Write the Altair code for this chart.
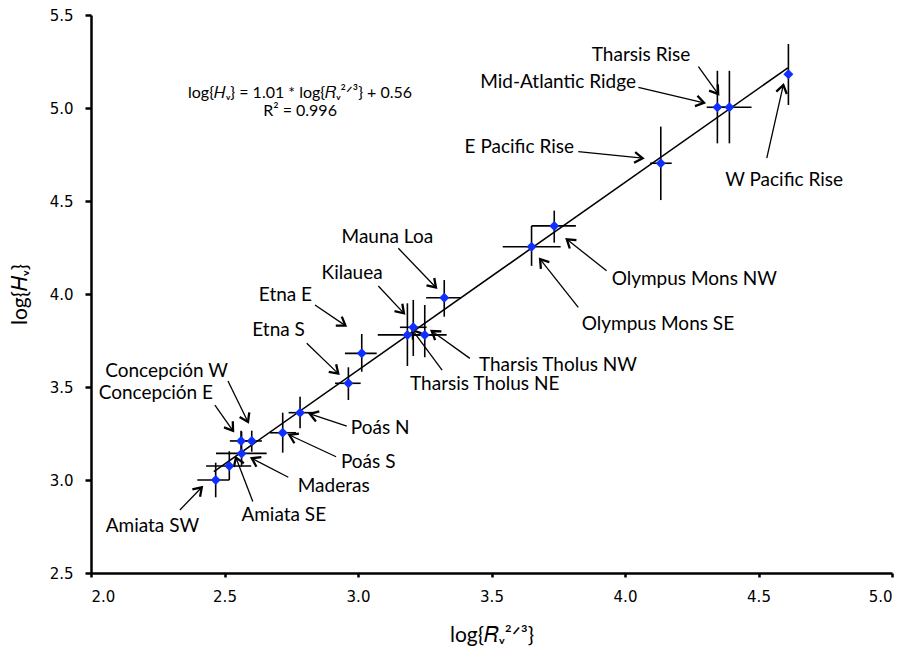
import math
import altair as alt
import pandas as pd

# ---------------- data ----------------
names = ["Amiata SW", "Amiata SE", "Maderas", "Concepción E", "Concepción W",
         "Poás S", "Poás N", "Etna S", "Etna E", "Kilauea",
         "Tharsis Tholus NE", "Tharsis Tholus NW", "Mauna Loa",
         "Olympus Mons SE", "Olympus Mons NW", "E Pacific Rise",
         "Mid-Atlantic Ridge", "Tharsis Rise", "W Pacific Rise"]
log_r = [2.467, 2.518, 2.564, 2.562, 2.602, 2.718, 2.783, 2.964, 3.014, 3.185,
         3.207, 3.250, 3.323, 3.650, 3.735, 4.134, 4.346, 4.391, 4.612]
log_h = [3.000, 3.075, 3.143, 3.210, 3.210, 3.254, 3.362, 3.520, 3.681, 3.780,
         3.821, 3.780, 3.980, 4.254, 4.366, 4.703, 5.004, 5.004, 5.181]
r_lo = [2.398, 2.431, 2.468, 2.520, 2.560, 2.670, 2.740, 2.914, 2.951, 3.074,
        3.157, 3.200, 3.255, 3.542, 3.650, 4.094, 4.306, 4.346, 4.600]
r_hi = [2.518, 2.600, 2.658, 2.600, 2.640, 2.768, 2.840, 3.010, 3.070, 3.300,
        3.257, 3.332, 3.385, 3.759, 3.816, 4.175, 4.391, 4.474, 4.624]
h_lo = [2.907, 3.000, 3.072, 3.152, 3.152, 3.147, 3.278, 3.430, 3.582, 3.613,
        3.667, 3.660, 3.878, 4.151, 4.276, 4.505, 4.810, 4.810, 5.016]
h_hi = [3.093, 3.155, 3.260, 3.265, 3.265, 3.362, 3.448, 3.606, 3.785, 3.950,
        3.968, 3.941, 4.075, 4.366, 4.448, 4.900, 5.200, 5.200, 5.344]

# fitted line end points (log{Hv} = 1.01 * log{Rv^2/3} + 0.56)
fit_r = [2.46, 4.61]
fit_h = [3.045, 5.216]

# annotation labels: anchor position and text alignment
label_names = ["Tharsis Rise", "Mid-Atlantic Ridge", "E Pacific Rise", "W Pacific Rise",
               "Olympus Mons NW", "Olympus Mons SE", "Mauna Loa", "Kilauea",
               "Etna E", "Etna S", "Tharsis Tholus NW", "Tharsis Tholus NE",
               "Concepción W", "Concepción E", "Poás N", "Poás S", "Maderas",
               "Amiata SE", "Amiata SW"]
label_r = [4.060, 4.041, 3.809, 4.596, 3.950, 3.838, 3.110, 2.978, 2.828, 2.801,
           3.453, 3.195, 2.513, 2.457, 2.973, 2.936, 2.909, 2.722, 2.230]
label_h = [5.285, 5.141, 4.792, 4.613, 4.079, 3.839, 4.308, 4.111, 3.995, 3.806,
           3.618, 3.516, 3.586, 3.468, 3.278, 3.098, 2.968, 2.812, 2.753]
label_align = ["center", "right", "right", "center", "left", "left", "center", "center",
               "right", "right", "left", "left", "right", "right", "left", "left",
               "center", "center", "center"]
# arrows: tail -> head
arrow_r1 = [4.275, 4.050, 3.825, 4.531, 3.931, 3.825, 3.151, 3.076, 2.839, 2.808,
            3.419, 3.315, 2.513, 2.464, 2.958, 2.918, 2.739, 2.606, 2.333]
arrow_h1 = [5.222, 5.111, 4.765, 4.730, 4.125, 3.928, 4.246, 4.043, 3.941, 3.735,
            3.654, 3.591, 3.532, 3.403, 3.290, 3.125, 3.015, 2.884, 2.839]
arrow_r2 = [4.349, 4.296, 4.066, 4.593, 3.782, 3.682, 3.292, 3.172, 2.953, 2.926,
            3.276, 3.204, 2.588, 2.532, 2.820, 2.743, 2.602, 2.543, 2.415]
arrow_h2 = [5.075, 5.028, 4.730, 5.124, 4.294, 4.187, 4.035, 3.896, 3.830, 3.572,
            3.801, 3.806, 3.312, 3.264, 3.355, 3.242, 3.117, 3.120, 2.961]

eq_lines = ["log{𝐻ᵥ} = 1.01 * log{𝑅ᵥ²ᐟ³} + 0.56", "R² = 0.996"]
eq_r = [2.783, 2.783]
eq_h = [5.079, 4.986]

x_ticks = [2.0, 2.5, 3.0, 3.5, 4.0, 4.5, 5.0]
y_ticks = [2.5, 3.0, 3.5, 4.0, 4.5, 5.0, 5.5]

# ---------------- layout ----------------
W, H = 801, 558
X_DOM, Y_DOM = [2.0, 5.0], [2.5, 5.5]
px_x = W / (X_DOM[1] - X_DOM[0])
px_y = H / (Y_DOM[1] - Y_DOM[0])

pts = pd.DataFrame({"name": names, "r": log_r, "h": log_h,
                    "rlo": r_lo, "rhi": r_hi, "hlo": h_lo, "hhi": h_hi})
fit = pd.DataFrame({"r": fit_r, "h": fit_h})
ang = []
for a, b, c, d in zip(arrow_r1, arrow_h1, arrow_r2, arrow_h2):
    ang.append(math.degrees(math.atan2((c - a) * px_x, (d - b) * px_y)) % 360)
arr = pd.DataFrame({"r1": arrow_r1, "h1": arrow_h1, "r2": arrow_r2, "h2": arrow_h2, "ang": ang})
labs = pd.DataFrame({"t": label_names, "r": label_r, "h": label_h, "al": label_align})
eq = pd.DataFrame({"t": eq_lines, "r": eq_r, "h": eq_h})

xs = alt.Scale(domain=X_DOM, nice=False, zero=False)
ys = alt.Scale(domain=Y_DOM, nice=False, zero=False)

x_axis = alt.Axis(values=x_ticks, format=".1f", title="log{𝑅ᵥ²ᐟ³}", grid=False,
                  tickSize=4, tickWidth=2.5, domainWidth=2.5, domainColor="black",
                  tickColor="black", labelFont="DejaVu Sans", labelFontSize=15,
                  labelColor="black", labelPadding=12, titleFont="Lato",
                  titleFontSize=21, titleFontWeight="normal", titleColor="black",
                  titlePadding=20)
y_axis = alt.Axis(values=y_ticks, format=".1f", title="log{𝐻ᵥ}", grid=False,
                  tickSize=6, tickWidth=2.5, domainWidth=2.5, domainColor="black",
                  tickColor="black", labelFont="DejaVu Sans", labelFontSize=15,
                  labelColor="black", labelPadding=12, titleFont="Lato",
                  titleFontSize=21, titleFontWeight="normal", titleColor="black",
                  titlePadding=19)

base = alt.Chart(pts)

hbar = base.mark_rule(color="black", strokeWidth=1.6).encode(
    x=alt.X("rlo:Q", scale=xs, axis=x_axis), x2="rhi:Q",
    y=alt.Y("h:Q", scale=ys, axis=y_axis))
vbar = base.mark_rule(color="black", strokeWidth=1.6).encode(
    x=alt.X("r:Q", scale=xs), y=alt.Y("hlo:Q", scale=ys), y2="hhi:Q")

fit_line = alt.Chart(fit).mark_line(color="black", strokeWidth=1.6).encode(
    x=alt.X("r:Q", scale=xs), y=alt.Y("h:Q", scale=ys))

points = base.mark_point(shape="diamond", filled=True, size=100, color="#0f2fff",
                         opacity=1).encode(
    x=alt.X("r:Q", scale=xs), y=alt.Y("h:Q", scale=ys))

arrow_lines = alt.Chart(arr).mark_rule(color="black", strokeWidth=1.3).encode(
    x=alt.X("r1:Q", scale=xs), y=alt.Y("h1:Q", scale=ys), x2="r2:Q", y2="h2:Q")
heads = alt.Chart(arr).mark_point(shape="M -0.6 0.9 L 0 0 L 0.6 0.9", filled=False,
                                  size=320, color="black", strokeWidth=2.3,
                                  opacity=1, strokeJoin="miter").encode(
    x=alt.X("r2:Q", scale=xs), y=alt.Y("h2:Q", scale=ys),
    angle=alt.Angle("ang:Q", scale=None))

label_layers = []
for al in ["left", "center", "right"]:
    label_layers.append(
        alt.Chart(labs).transform_filter(alt.datum.al == al).mark_text(
            font="Lato", fontSize=19, color="black", align=al, baseline="middle").encode(
            x=alt.X("r:Q", scale=xs), y=alt.Y("h:Q", scale=ys), text="t:N"))

eq_text = alt.Chart(eq).mark_text(font="Lato", fontSize=16, color="black",
                                  align="center", baseline="middle").encode(
    x=alt.X("r:Q", scale=xs), y=alt.Y("h:Q", scale=ys), text="t:N")

chart = alt.layer(hbar, vbar, fit_line, arrow_lines, heads, points, *label_layers, eq_text).properties(
    width=W, height=H,
    autosize=alt.AutoSizeParams(type="none"),
    padding={"left": 91, "top": 15, "right": 16, "bottom": 84},
    background="white",
).configure_view(stroke=None)

chart.save("out.html", embed_options={"renderer": "svg", "actions": False})
